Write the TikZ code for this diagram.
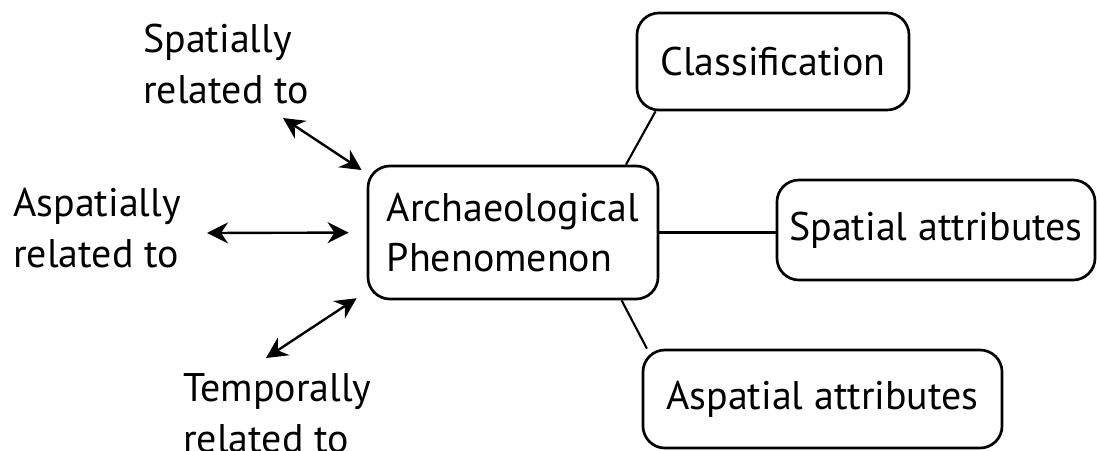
\documentclass[tikz,border=0pt]{standalone}
\usepackage{fontspec}
\setmainfont{PT Sans}
\usetikzlibrary{arrows.meta}
\begin{document}
\begin{tikzpicture}[x=0.025cm, y=-0.025cm,
  every node/.style={font=\fontsize{28.4pt}{35.6pt}\selectfont},
  box/.style={draw, line width=1.9pt, rounded corners=0.55cm, inner sep=0pt},
  label/.style={anchor=base west, align=left, inner sep=0pt},
  >={Stealth[length=15pt, width=15pt, inset=5pt]},
  rel/.style={<->, line width=1.7pt},
  link/.style={line width=1.5pt}]
  \useasboundingbox (0,0) rectangle (1097,450);
  % central box and its attributes
  \node[box, align=left, minimum width=7.25cm, minimum height=3.325cm] (ap) at (513,232.5) {Archaeological\\Phenomenon};
  \node[box, minimum width=6.8cm, minimum height=2.425cm] (cls) at (773,61.5) {Classification};
  \node[box, minimum width=7.95cm, minimum height=2.5cm] (spa) at (936,230) {Spatial attributes};
  \node[box, minimum width=8.975cm, minimum height=2.45cm] (asp) at (822.5,399) {Aspatial attributes};
  \draw[link] (ap.31) -- (cls.203);
  \draw[link] (ap.east) -- (ap.east -| spa.west);
  \draw[link] (ap.-32) -- (asp.164);
  % relations (base = last line)
  \node[label] (spat) at (143,103) {Spatially\\related to};
  \node[label] (aspat) at (13,267) {Aspatially\\related to};
  \node[label] (temp) at (183,452) {Temporally\\related to};
  \coordinate (spatend) at (283,118);
  \coordinate (aspatend) at (207,233);
  \coordinate (tempend) at (266,358);
  \draw[rel, shorten >=0.15cm] (spatend) -- (ap.158);
  \draw[rel, shorten >=0.45cm] (aspatend) -- (ap.west);
  \draw[rel, shorten >=0.3cm] (tempend) -- (ap.202);
\end{tikzpicture}
\end{document}
